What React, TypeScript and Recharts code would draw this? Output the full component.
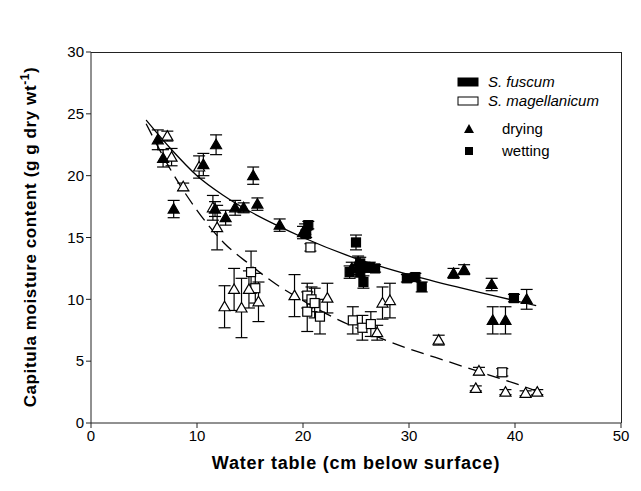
import { ComposedChart, Scatter, Line, XAxis, YAxis, ErrorBar } from "recharts";

// S. fuscum, drying (filled triangles): x = water table, y = moisture, e = error
const fuscumDrying = [
  { x: 6.3, y: 22.9, e: 0.8 },
  { x: 6.8, y: 21.4, e: 0.7 },
  { x: 7.8, y: 17.3, e: 0.7 },
  { x: 10.6, y: 20.9, e: 0.9 },
  { x: 11.8, y: 22.5, e: 0.8 },
  { x: 11.7, y: 17.3, e: 0.6 },
  { x: 12.7, y: 16.6, e: 0.6 },
  { x: 13.6, y: 17.4, e: 0.6 },
  { x: 14.4, y: 17.4, e: 0.4 },
  { x: 15.3, y: 20.0, e: 0.7 },
  { x: 15.7, y: 17.7, e: 0.5 },
  { x: 17.8, y: 16.0, e: 0.5 },
  { x: 20.0, y: 15.4, e: 0.5 },
  { x: 20.2, y: 15.6, e: 0.5 },
  { x: 24.6, y: 12.5, e: 0.5 },
  { x: 25.2, y: 13.0, e: 0.5 },
  { x: 34.2, y: 12.1, e: 0.4 },
  { x: 35.2, y: 12.4, e: 0.4 },
  { x: 37.8, y: 11.2, e: 0.5 },
  { x: 37.9, y: 8.3, e: 1.1 },
  { x: 39.1, y: 8.3, e: 1.1 },
  { x: 41.1, y: 10.0, e: 0.8 },
];

// S. fuscum, wetting (filled squares)
const fuscumWetting = [
  { x: 20.5, y: 16.0, e: 0.3 },
  { x: 20.3, y: 15.3, e: 0.3 },
  { x: 25.0, y: 14.6, e: 0.6 },
  { x: 24.4, y: 12.2, e: 0.5 },
  { x: 25.4, y: 12.9, e: 0.5 },
  { x: 25.8, y: 12.6, e: 0.4 },
  { x: 26.3, y: 12.6, e: 0.4 },
  { x: 26.8, y: 12.5, e: 0.3 },
  { x: 25.7, y: 11.4, e: 0.5 },
  { x: 25.4, y: 12.2, e: 0.4 },
  { x: 29.8, y: 11.7, e: 0.3 },
  { x: 30.6, y: 11.8, e: 0.3 },
  { x: 31.2, y: 11.0, e: 0.4 },
  { x: 39.9, y: 10.1, e: 0.3 },
];

// S. magellanicum, drying (open triangles)
const magDrying = [
  { x: 7.2, y: 23.2, e: 0.4 },
  { x: 7.6, y: 21.5, e: 0.7 },
  { x: 8.7, y: 19.1, e: 0.3 },
  { x: 10.2, y: 20.7, e: 0.9 },
  { x: 11.5, y: 17.4, e: 1.0 },
  { x: 11.9, y: 15.8, e: 1.8 },
  { x: 12.6, y: 9.4, e: 1.7 },
  { x: 13.5, y: 10.8, e: 1.7 },
  { x: 14.2, y: 9.3, e: 2.4 },
  { x: 14.9, y: 10.8, e: 1.5 },
  { x: 15.8, y: 9.8, e: 1.6 },
  { x: 19.2, y: 10.3, e: 1.7 },
  { x: 22.3, y: 10.1, e: 1.2 },
  { x: 27.0, y: 7.3, e: 0.6 },
  { x: 27.5, y: 9.7, e: 1.3 },
  { x: 28.2, y: 9.9, e: 1.4 },
  { x: 32.8, y: 6.7, e: 0.4 },
  { x: 36.6, y: 4.2, e: 0.3 },
  { x: 36.3, y: 2.8, e: 0.2 },
  { x: 39.1, y: 2.5, e: 0.2 },
  { x: 41.0, y: 2.4, e: 0.2 },
  { x: 42.1, y: 2.5, e: 0.2 },
];

// S. magellanicum, wetting (open squares)
const magWetting = [
  { x: 15.1, y: 12.2, e: 1.7 },
  { x: 15.5, y: 10.9, e: 1.2 },
  { x: 20.7, y: 14.2, e: 0.3 },
  { x: 20.4, y: 10.3, e: 1.0 },
  { x: 20.8, y: 10.0, e: 1.0 },
  { x: 20.4, y: 9.0, e: 1.6 },
  { x: 21.1, y: 9.7, e: 1.2 },
  { x: 21.6, y: 8.6, e: 1.4 },
  { x: 24.7, y: 8.3, e: 1.1 },
  { x: 25.6, y: 7.7, e: 1.0 },
  { x: 26.4, y: 8.0, e: 1.0 },
  { x: 38.8, y: 4.1, e: 0.3 },
];

// fitted curves
const fuscumFit = [
  { x: 5.2, y: 24.5 },
  { x: 7.5, y: 22.2 },
  { x: 10, y: 20.0 },
  { x: 12.5, y: 18.4 },
  { x: 15, y: 17.1 },
  { x: 17.5, y: 16.0 },
  { x: 20, y: 15.0 },
  { x: 25, y: 13.3 },
  { x: 30, y: 12.0 },
  { x: 35, y: 10.9 },
  { x: 42, y: 9.5 },
];

const magFit = [
  { x: 5.2, y: 24.2 },
  { x: 7.5, y: 20.5 },
  { x: 10, y: 17.2 },
  { x: 12.5, y: 14.6 },
  { x: 15, y: 12.8 },
  { x: 17.5, y: 11.2 },
  { x: 20, y: 9.9 },
  { x: 22.5, y: 8.7 },
  { x: 25, y: 7.7 },
  { x: 27.5, y: 6.8 },
  { x: 30, y: 6.0 },
  { x: 32.5, y: 5.3 },
  { x: 35, y: 4.6 },
  { x: 37.5, y: 3.9 },
  { x: 40, y: 3.2 },
  { x: 42, y: 2.6 },
];

const xTicks = [0, 10, 20, 30, 40, 50];
const yTicks = [0, 5, 10, 15, 20, 25, 30];

const FONT = "'Liberation Sans', Arial, sans-serif";

// plot box (matches chart margins + axis sizes below)
const PLOT = { left: 91, right: 621, top: 52, bottom: 423 };

const triangle = (fill: string) => (props: any) => {
  const { cx, cy } = props;
  return (
    <path
      d={`M${cx},${cy - 5.5} L${cx + 5.5},${cy + 4} L${cx - 5.5},${cy + 4} Z`}
      fill={fill}
      stroke="#000"
      strokeWidth={1.2}
    />
  );
};

const square = (fill: string) => (props: any) => {
  const { cx, cy } = props;
  return (
    <rect x={cx - 4.5} y={cy - 4.5} width={9} height={9} fill={fill} stroke="#000" strokeWidth={1.2} />
  );
};

const XTitle = () => (
  <text x={356} y={469} textAnchor="middle" fontFamily={FONT} fontWeight="bold" fontSize={18} letterSpacing={0.8} fill="#000">
    Water table (cm below surface)
  </text>
);

const YTitle = () => (
  <text
    transform="translate(36, 237) rotate(-90)"
    textAnchor="middle"
    fontFamily={FONT}
    fontWeight="bold"
    fontSize={17}
    letterSpacing={0.6}
    fill="#000"
  >
    Capitula moisture content (g g dry wt
    <tspan dy={-7} fontSize={12}>-1</tspan>
    <tspan dy={7}>)</tspan>
  </text>
);

export default function App() {
  return (
    <div style={{ position: "absolute", left: 0, top: 0, width: 641, height: 491, background: "#fff" }}>
      <ComposedChart width={641} height={491} margin={{ top: 52, right: 20, bottom: 38, left: 0 }}>
        <XAxis
          type="number"
          dataKey="x"
          domain={[0, 50]}
          ticks={xTicks}
          stroke="#222"
          tickSize={5}
          height={30}
          tick={{ fill: "#000", fontSize: 15, fontFamily: FONT }}
          label={<XTitle />}
        />
        <YAxis
          type="number"
          dataKey="y"
          domain={[0, 30]}
          ticks={yTicks}
          stroke="#222"
          tickSize={5}
          width={91}
          tick={{ fill: "#000", fontSize: 15, fontFamily: FONT }}
          label={<YTitle />}
        />
        <Line data={fuscumFit} dataKey="y" type="monotone" stroke="#000" strokeWidth={1.3} dot={false} isAnimationActive={false} />
        <Line data={magFit} dataKey="y" type="monotone" stroke="#000" strokeWidth={1.3} strokeDasharray="13 7" dot={false} isAnimationActive={false} />
        <Scatter data={magWetting} dataKey="y" shape={square("#fff")} isAnimationActive={false}>
          <ErrorBar dataKey="e" direction="y" width={6} stroke="#000" strokeWidth={1.2} />
        </Scatter>
        <Scatter data={magDrying} dataKey="y" shape={triangle("#fff")} isAnimationActive={false}>
          <ErrorBar dataKey="e" direction="y" width={6} stroke="#000" strokeWidth={1.2} />
        </Scatter>
        <Scatter data={fuscumWetting} dataKey="y" shape={square("#000")} isAnimationActive={false}>
          <ErrorBar dataKey="e" direction="y" width={6} stroke="#000" strokeWidth={1.2} />
        </Scatter>
        <Scatter data={fuscumDrying} dataKey="y" shape={triangle("#000")} isAnimationActive={false}>
          <ErrorBar dataKey="e" direction="y" width={6} stroke="#000" strokeWidth={1.2} />
        </Scatter>
      </ComposedChart>
      {/* top and right edges of the frame */}
      <svg width={641} height={491} style={{ position: "absolute", left: 0, top: 0, pointerEvents: "none" }}>
        <line x1={PLOT.left} y1={PLOT.top + 0.5} x2={PLOT.right + 1} y2={PLOT.top + 0.5} stroke="#222" strokeWidth={1} />
        <line x1={PLOT.right + 0.5} y1={PLOT.top} x2={PLOT.right + 0.5} y2={PLOT.bottom} stroke="#222" strokeWidth={1} />
      </svg>
      <svg width={200} height={100} style={{ position: "absolute", left: 450, top: 68 }} fontFamily={FONT} fontSize={15}>
        <rect x={8} y={10} width={20} height={8} fill="#000" stroke="#000" />
        <text x={38} y={19} fontStyle="italic">S. fuscum</text>
        <rect x={8} y={29} width={20} height={8} fill="#fff" stroke="#000" />
        <text x={38} y={38} fontStyle="italic">S. magellanicum</text>
        <path d="M19,56 L24,65 L14,65 Z" fill="#000" />
        <text x={52} y={66}>drying</text>
        <rect x={15} y={79} width={8} height={8} fill="#000" />
        <text x={52} y={88}>wetting</text>
      </svg>
    </div>
  );
}
